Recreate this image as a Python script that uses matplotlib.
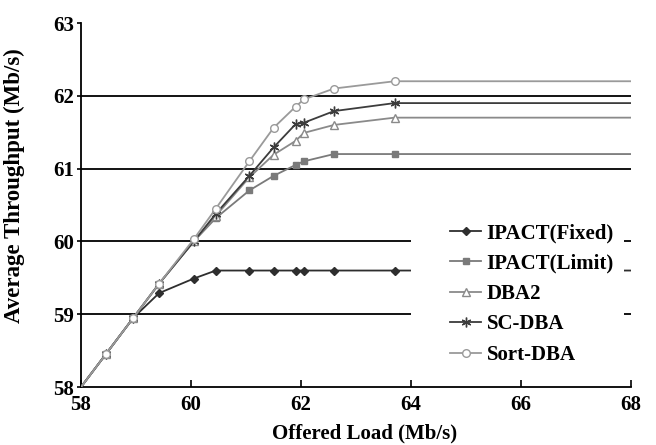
import numpy as np
import matplotlib
matplotlib.use("Agg")
import matplotlib.pyplot as plt
from matplotlib.patches import Rectangle

plt.rcParams['font.family'] = ['Liberation Serif', 'DejaVu Serif']
plt.rcParams['font.weight'] = 'bold'

# offered load points (last one is the flat tail out to 68, no marker)
load = [58.0, 58.45, 58.95, 59.42, 60.05, 60.45, 61.06, 61.5, 61.9, 62.05, 62.6, 63.7, 68.0]

ipact_fixed = [58.0, 58.45, 58.95, 59.29, 59.49, 59.6, 59.6, 59.6, 59.6, 59.6, 59.6, 59.6, 59.6]
ipact_limit = [58.0, 58.45, 58.95, 59.42, 60.0, 60.32, 60.7, 60.9, 61.05, 61.1, 61.2, 61.2, 61.2]
dba2 = [58.0, 58.45, 58.95, 59.42, 60.0, 60.35, 60.88, 61.19, 61.38, 61.49, 61.6, 61.7, 61.7]
sc_dba = [58.0, 58.45, 58.95, 59.42, 60.0, 60.38, 60.9, 61.29, 61.61, 61.63, 61.79, 61.9, 61.9]
sort_dba = [58.0, 58.45, 58.95, 59.42, 60.03, 60.45, 61.1, 61.56, 61.85, 61.95, 62.1, 62.2, 62.2]

names = ['IPACT(Fixed)', 'IPACT(Limit)', 'DBA2', 'SC-DBA', 'Sort-DBA']
series = [ipact_fixed, ipact_limit, dba2, sc_dba, sort_dba]
colors = ['#2e2e2e', '#7a7a7a', '#8a8a8a', '#3c3c3c', '#9a9a9a']
markers = ['D', 's', '^', (6, 2, 0), 'o']
mfc = ['#2e2e2e', '#7a7a7a', 'white', '#3c3c3c', 'white']
msize = [4, 5, 5.5, 7, 5.5]

fig = plt.figure(figsize=(6.56, 4.45), dpi=100)
ax = fig.add_axes([0.1235, 0.1303, 0.8385, 0.8180])

n = len(load) - 1
for name, vals, c, m, fc, ms in zip(names, series, colors, markers, mfc, msize):
    ax.plot(load, vals, color=c, lw=1.3, marker=m, markersize=ms,
            markerfacecolor=fc, markeredgecolor=c, markeredgewidth=1.0,
            markevery=list(range(1, n)), label=name, zorder=3)

ax.set_xlim(58, 68)
ax.set_ylim(58, 63)
ax.set_xticks([58, 60, 62, 64, 66, 68])
ax.set_yticks([58, 59, 60, 61, 62, 63])
for yv in [59, 60, 61, 62]:
    ax.axhline(yv, color='black', lw=1.3, zorder=1)

# white block behind the legend hides the lines there
ax.add_patch(Rectangle((64.0, 58.2), 3.87, 2.3, facecolor='white',
                       edgecolor='none', zorder=4))

for s in ['top', 'right']:
    ax.spines[s].set_visible(False)
ax.spines['left'].set_linewidth(1.3)
ax.spines['bottom'].set_linewidth(1.3)
ax.tick_params(axis='x', direction='in', length=5, width=1.2, labelsize=15, pad=6)
ax.tick_params(axis='y', direction='out', length=3, width=1.2, labelsize=15, pad=2)
for lab in ax.get_xticklabels() + ax.get_yticklabels():
    lab.set_fontweight('bold')

ax.set_xlabel('Offered Load (Mb/s)', fontsize=15, fontweight='bold')
ax.set_ylabel('Average Throughput (Mb/s)', fontsize=16.5, fontweight='bold')
ax.xaxis.set_label_coords(0.516, -0.1)
ax.yaxis.set_label_coords(-0.102, 0.552)

leg = ax.legend(loc='upper left', bbox_to_anchor=(64.71, 60.25),
                bbox_transform=ax.transData, fontsize=15, frameon=False,
                handlelength=1.5, handletextpad=0.25, labelspacing=0.5,
                borderpad=0, borderaxespad=0)
leg.set_zorder(5)
for t in leg.get_texts():
    t.set_fontweight('bold')

fig.savefig('out.png', dpi=100)
